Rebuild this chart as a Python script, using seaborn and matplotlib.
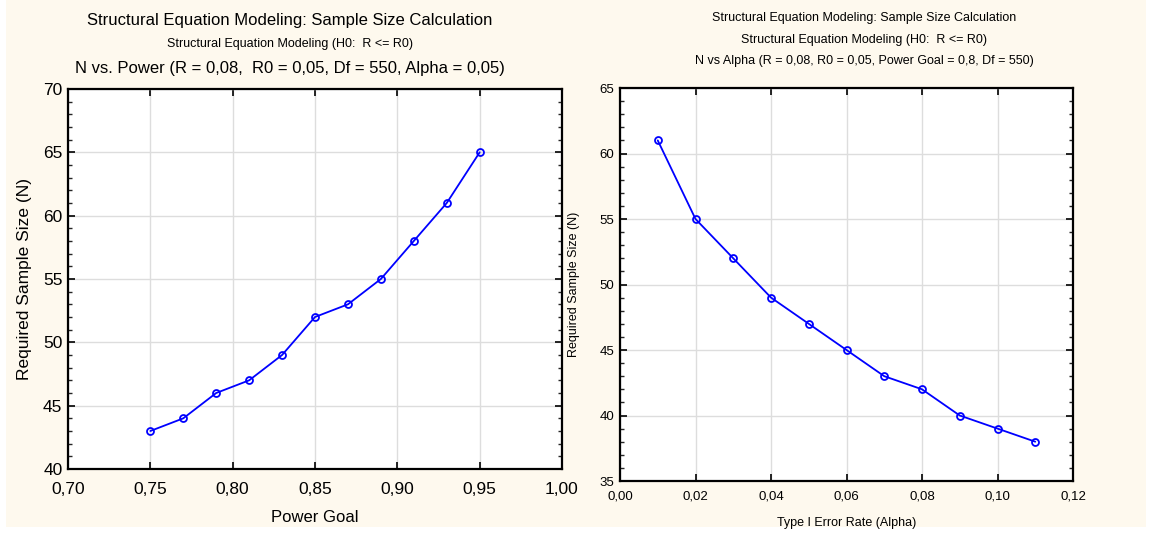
import matplotlib
matplotlib.use("Agg")
import matplotlib.pyplot as plt
import seaborn as sns
import pandas as pd
from matplotlib.ticker import FuncFormatter, MultipleLocator
from matplotlib.patches import Rectangle

power_goal = [0.75, 0.77, 0.79, 0.81, 0.83, 0.85, 0.87, 0.89, 0.91, 0.93, 0.95]
n_power = [43, 44, 46, 47, 49, 52, 53, 55, 58, 61, 65]
alpha = [0.01, 0.02, 0.03, 0.04, 0.05, 0.06, 0.07, 0.08, 0.09, 0.10, 0.11]
n_alpha = [61, 55, 52, 49, 47, 45, 43, 42, 40, 39, 38]

sns.set_theme(style="white")
plt.rcParams['font.family'] = ['Liberation Sans', 'DejaVu Sans']
plt.rcParams['text.color'] = 'black'
plt.rcParams['axes.labelcolor'] = 'black'

CREAM = '#FEF9EE'
fig = plt.figure(figsize=(11.52, 5.37), dpi=100, facecolor='white')
fig.patches.append(Rectangle((6/1152, 10/537), 1140/1152, 527/537, transform=fig.transFigure,
                             facecolor=CREAM, edgecolor='none', zorder=-10))

ax1 = fig.add_axes([68/1152, 1-469/537, 494/1152, 380/537])
ax2 = fig.add_axes([620/1152, 1-481/537, 453/1152, 393/537])

df1 = pd.DataFrame({'Power Goal': power_goal, 'N': n_power})
df2 = pd.DataFrame({'Alpha': alpha, 'N': n_alpha})

def comma2(x, pos):
    return f"{x:.2f}".replace('.', ',')

def style(ax, fs, xpad):
    ax.set_facecolor('white')
    for s in ax.spines.values():
        s.set_visible(True)
        s.set_color('black')
        s.set_linewidth(1.6)
    ax.grid(True, color='#DDDDDD', linewidth=1.0)
    ax.set_axisbelow(True)
    ax.tick_params(axis='both', which='major', direction='in', length=5, width=1.2,
                   top=True, right=True, bottom=True, left=True, labelsize=fs, colors='black',
                   labelcolor='black', pad=4)
    ax.tick_params(axis='x', which='major', pad=xpad)
    ax.tick_params(axis='y', which='minor', direction='in', length=3, width=1.0,
                   left=True, right=True)
    ax.tick_params(axis='x', which='minor', bottom=False, top=False)
    ax.xaxis.set_major_formatter(FuncFormatter(comma2))

sns.lineplot(data=df1, x='Power Goal', y='N', ax=ax1, color='#0000FF', linewidth=1.3,
             marker='o', markersize=5, markerfacecolor='none', markeredgecolor='#0000FF',
             markeredgewidth=1.3)
ax1.set_xlim(0.70, 1.00)
ax1.set_ylim(40, 70)
ax1.xaxis.set_major_locator(MultipleLocator(0.05))
ax1.yaxis.set_major_locator(MultipleLocator(5))
ax1.yaxis.set_minor_locator(MultipleLocator(1))
style(ax1, 12.5, 9)
ax1.set_xlabel('Power Goal', fontsize=12, labelpad=10)
ax1.set_ylabel('Required Sample Size (N)', fontsize=12.5, labelpad=8)

sns.lineplot(data=df2, x='Alpha', y='N', ax=ax2, color='#0000FF', linewidth=1.3,
             marker='o', markersize=5, markerfacecolor='none', markeredgecolor='#0000FF',
             markeredgewidth=1.3)
ax2.set_xlim(0.0, 0.12)
ax2.set_ylim(35, 65)
ax2.xaxis.set_major_locator(MultipleLocator(0.02))
ax2.yaxis.set_major_locator(MultipleLocator(5))
ax2.yaxis.set_minor_locator(MultipleLocator(1))
style(ax2, 9.5, 7)
ax2.set_xlabel('Type I Error Rate (Alpha)', fontsize=9, labelpad=10)
ax2.set_ylabel('Required Sample Size (N)', fontsize=9, labelpad=14)

fig.text(290/1152, 1-20/537, 'Structural Equation Modeling: Sample Size Calculation',
         ha='center', va='center', fontsize=12)
fig.text(290/1152, 1-44/537, 'Structural Equation Modeling (H0:  R <= R0)',
         ha='center', va='center', fontsize=9)
fig.text(290/1152, 1-68/537, 'N vs. Power (R = 0,08,  R0 = 0,05, Df = 550, Alpha = 0,05)',
         ha='center', va='center', fontsize=12)

fig.text(864/1152, 1-18/537, 'Structural Equation Modeling: Sample Size Calculation',
         ha='center', va='center', fontsize=9)
fig.text(864/1152, 1-40/537, 'Structural Equation Modeling (H0:  R <= R0)',
         ha='center', va='center', fontsize=9)
fig.text(864/1152, 1-61/537, 'N vs Alpha (R = 0,08, R0 = 0,05, Power Goal = 0,8, Df = 550)',
         ha='center', va='center', fontsize=9)

fig.savefig('out.png', dpi=100, facecolor='white')
